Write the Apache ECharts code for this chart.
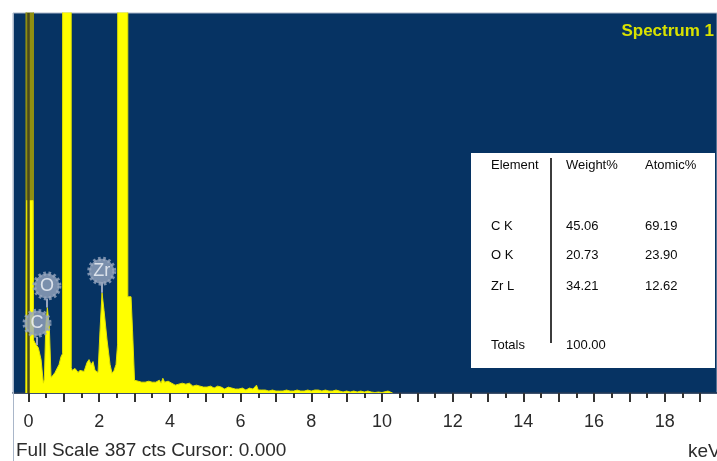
<!DOCTYPE html>
<html>
<head>
<meta charset="utf-8">
<script src="https://cdn.jsdelivr.net/npm/echarts@6/dist/echarts.min.js"></script>
<style>
  html, body { margin: 0; padding: 0; background: #ffffff; }
  #chart { width: 717px; height: 461px; }
</style>
</head>
<body>
<div id="chart"></div>
<script>
// EDS spectrum: energy (keV) and counts
const energyKeV = [
  -0.075, -0.057, 0.127, 0.141, 0.184, 0.240, 0.277, 0.354, 0.419,
  0.447, 0.487, 0.532, 0.588, 0.636, 0.693, 0.750, 0.806, 0.863, 0.919,
  0.962, 0.984, 1.089, 1.194, 1.208, 1.231, 1.315, 1.400, 1.457, 1.570,
  1.655, 1.711, 1.768, 1.824, 1.881, 1.966, 2.023, 2.079, 2.136, 2.221,
  2.306, 2.362, 2.419, 2.475, 2.518, 2.574, 2.687, 2.801, 2.809, 2.900,
  2.942, 2.999, 3.055,
  3.10, 3.15, 3.20, 3.25, 3.30, 3.35, 3.40, 3.45, 3.50, 3.55,
  3.60, 3.65, 3.70, 3.75, 3.80, 3.85, 3.90, 3.95, 4.00, 4.05,
  4.10, 4.15, 4.20, 4.25, 4.30, 4.35, 4.40, 4.45, 4.50, 4.55,
  4.60, 4.65, 4.70, 4.75, 4.80, 4.85, 4.90, 4.95, 5.00, 5.05,
  5.10, 5.15, 5.20, 5.25, 5.30, 5.35, 5.40, 5.45, 5.50, 5.55,
  5.60, 5.65, 5.70, 5.75, 5.80, 5.85, 5.90, 5.95, 6.00, 6.05,
  6.10, 6.15, 6.20, 6.25, 6.30, 6.35, 6.40, 6.45, 6.50, 6.55,
  6.60, 6.70, 6.80, 6.90, 7.00, 7.10, 7.20, 7.30, 7.40, 7.50,
  7.60, 7.70, 7.80, 7.90, 8.00, 8.10, 8.20, 8.30, 8.40, 8.50,
  8.60, 8.70, 8.80, 8.90, 9.00, 9.10, 9.20, 9.30, 9.40, 9.50,
  9.60, 9.70, 9.80, 9.90, 10.00, 10.17, 10.30
];
const countsCts = [
  0, 196, 196, 54, 51, 49, 46, 34, 10,
  14, 67, 87, 67, 16, 18, 21, 23, 29, 37,
  40, 4000, 4500, 4000, 26, 23, 25, 21, 23, 22,
  31, 34, 29, 32, 23, 21, 64, 102, 84, 54,
  29, 20, 23, 29, 49, 4000, 4500, 4000, 98, 98,
  64, 13, 12,
  12, 10, 11, 9, 11, 10, 12, 10, 11, 9,
  11, 12, 13, 10, 15, 11, 9, 12, 14, 10,
  9, 8, 10, 9, 11, 10, 8, 9, 7, 10,
  8, 7, 9, 8, 6, 7, 8, 6, 7, 6,
  5, 7, 6, 5, 6, 7, 5, 6, 5, 4,
  5, 6, 4, 5, 6, 4, 5, 4, 3, 5,
  4, 3, 4, 5, 3, 4, 5, 8, 3, 4,
  3, 3, 2, 3, 2, 2, 2, 3, 2, 2,
  3, 2, 2, 3, 2, 3, 3, 2, 3, 2,
  2, 3, 2, 1, 2, 1, 2, 1, 2, 1,
  2, 1, 0.5, 1, 0.5, 2, 0
];

// zero-energy strobe peak (rises above full scale)
const strobeKeV = [-0.075, -0.057, 0.127, 0.141];
const strobeCts = [0, 5000, 5000, 0];

const cursorKeV = 0.0;
const fullScaleCts = 387;

// element markers
const peakNames = ['C', 'O', 'Zr'];
const peakKeV = [0.24, 0.52, 2.07];
const badgeCts = [71, 109, 124];
const stemTopCts = [57, 96, 113];
const stemBottomCts = [49, 87, 102];

// axis ticks
const tickLabels = [0, 2, 4, 6, 8, 10, 12, 14, 16, 18];
const majorTicks = [0, 1, 2, 3, 4, 5, 6, 7, 8, 9, 10, 11, 12, 13, 14, 15, 16, 17, 18, 19];
const minorTicks = [0.5, 1.5, 2.5, 3.5, 4.5, 5.5, 6.5, 7.5, 8.5, 9.5, 10.5, 11.5, 12.5, 13.5, 14.5, 15.5, 16.5, 17.5, 18.5];

// quantification table
const tableElements = ['C K', 'O K', 'Zr L'];
const tableWeight = ['45.06', '20.73', '34.21'];
const tableAtomic = ['69.19', '23.90', '12.62'];
const tableTotal = '100.00';

const spectrumData = energyKeV.map((e, i) => [e, countsCts[i]]);
const strobeData = strobeKeV.map((e, i) => [e, strobeCts[i]]);
const badgeData = peakNames.map((n, i) => ({ name: n, value: [peakKeV[i], badgeCts[i]] }));
const stemLines = peakNames.map((n, i) => [
  { coord: [peakKeV[i], stemTopCts[i]] },
  { coord: [peakKeV[i], stemBottomCts[i]] }
]);

const X_MIN = -0.44, X_MAX = 19.48;
const font = '"Liberation Sans", Arial, sans-serif';

const tableGraphics = [];
tableGraphics.push({ type: 'rect', shape: { x: 471, y: 153, width: 244, height: 215 },
  style: { fill: '#ffffff' }, z: 10 });
tableGraphics.push({ type: 'line', shape: { x1: 551, y1: 158, x2: 551, y2: 343 },
  style: { stroke: '#3c3c3c', lineWidth: 2 }, z: 11 });
function cell(txt, x, y) {
  return { type: 'text', x: x, y: y, z: 11,
    style: { text: txt, font: '13px ' + font, fill: '#0a0a0a',
      textAlign: 'left', textVerticalAlign: 'middle', verticalAlign: 'middle' } };
}
tableGraphics.push(cell('Element', 491, 165));
tableGraphics.push(cell('Weight%', 566, 165));
tableGraphics.push(cell('Atomic%', 645, 165));
const rowY = [226, 255, 286];
tableElements.forEach((el, i) => {
  tableGraphics.push(cell(el, 491, rowY[i]));
  tableGraphics.push(cell(tableWeight[i], 566, rowY[i]));
  tableGraphics.push(cell(tableAtomic[i], 645, rowY[i]));
});
tableGraphics.push(cell('Totals', 491, 345));
tableGraphics.push(cell(tableTotal, 566, 345));

const chart = echarts.init(document.getElementById('chart'), null, { renderer: 'canvas' });

chart.setOption({
  animation: false,
  backgroundColor: '#ffffff',
  title: {
    text: 'Spectrum 1',
    right: 3, top: 22, padding: 0,
    textStyle: { color: '#d9e200', fontSize: 17, fontWeight: 'bold', fontFamily: font, lineHeight: 18 }
  },
  grid: {
    left: 13, right: 0, top: 13, bottom: 68,
    show: true, backgroundColor: '#063363', borderColor: '#a9b6c9', borderWidth: 1,
    containLabel: false, outerBoundsMode: 'none'
  },
  xAxis: [
    {
      type: 'value', min: X_MIN, max: X_MAX, position: 'bottom',
      axisLine: { show: true, onZero: false, lineStyle: { color: '#0b2545', width: 1.5 } },
      axisTick: { show: true, customValues: majorTicks, length: 9, lineStyle: { color: '#333333', width: 2 } },
      axisLabel: {
        show: true, customValues: tickLabels, margin: 20,
        color: '#2a2a2a', fontSize: 18, fontFamily: font,
        showMinLabel: true, showMaxLabel: true
      },
      splitLine: { show: false }
    },
    {
      type: 'value', min: X_MIN, max: X_MAX, position: 'bottom', gridIndex: 0,
      axisLine: { show: false },
      axisTick: { show: true, customValues: minorTicks, length: 5, lineStyle: { color: '#333333', width: 2 } },
      axisLabel: { show: false },
      splitLine: { show: false }
    }
  ],
  yAxis: {
    type: 'value', min: 0, max: fullScaleCts, show: false,
    splitLine: { show: false }
  },
  series: [
    {
      name: 'strobe',
      type: 'line', xAxisIndex: 0, data: strobeData, showSymbol: false, z: 1,
      lineStyle: { color: '#8f8f12', width: 1 },
      areaStyle: { color: '#8f8f12', opacity: 1 },
      markLine: {
        silent: true, symbol: 'none', label: { show: false },
        lineStyle: { color: '#4a4a1c', width: 2.5, type: 'solid' },
        data: [{ xAxis: cursorKeV }]
      }
    },
    {
      name: 'spectrum',
      type: 'line', xAxisIndex: 0, data: spectrumData, showSymbol: false, z: 2,
      sampling: 'none',
      lineStyle: { color: '#e2e200', width: 1 },
      areaStyle: { color: '#ffff00', opacity: 1 },
      markLine: {
        silent: true, symbol: 'none', label: { show: false },
        lineStyle: { color: '#97a6be', width: 2, type: 'solid' },
        data: stemLines
      }
    },
    {
      name: 'markers',
      type: 'scatter', xAxisIndex: 0, data: badgeData, z: 5,
      symbol: 'circle', symbolSize: 25,
      itemStyle: { color: '#97a6be', borderColor: '#97a6be', borderWidth: 4, borderType: [2.5, 2.5] },
      label: {
        show: true, position: 'inside', formatter: p => p.name,
        color: '#f4f6fa', fontSize: 18, fontFamily: font
      }
    }
  ],
  graphic: [
    { type: 'line', shape: { x1: 13.5, y1: 13, x2: 13.5, y2: 461 },
      style: { stroke: '#a9b6c9', lineWidth: 1 }, z: 12 },
    { type: 'text', x: 16, y: 451, z: 12,
      style: { text: 'Full Scale ' + fullScaleCts + ' cts Cursor: ' + cursorKeV.toFixed(3),
        font: '19px ' + font, fill: '#2b2b2b', textAlign: 'left', textVerticalAlign: 'middle', verticalAlign: 'middle' } },
    { type: 'text', x: 688, y: 452, z: 12,
      style: { text: 'keV', font: '19px ' + font, fill: '#2b2b2b',
        textAlign: 'left', textVerticalAlign: 'middle', verticalAlign: 'middle' } }
  ].concat(tableGraphics)
});
</script>
</body>
</html>
